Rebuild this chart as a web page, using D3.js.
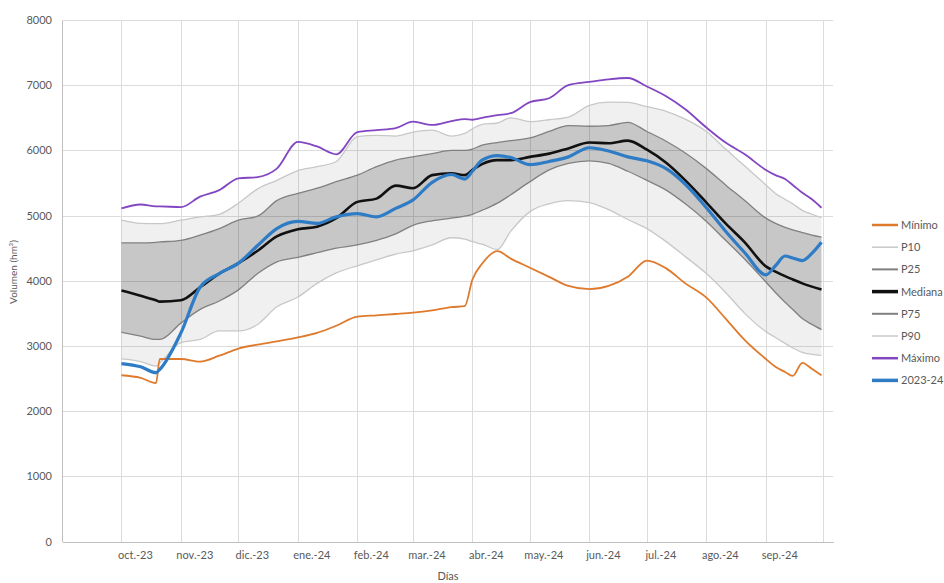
<!DOCTYPE html>
<meta charset="utf-8">
<style>

body {
  margin: 0;
  background: #fff;
}

text {
  font-family: Lato, "Open Sans", sans-serif;
  fill: #595959;
}

.grid line {
  stroke: #dcdcdc;
  stroke-width: 1px;
  shape-rendering: crispEdges;
}

.axis path,
.axis line {
  fill: none;
  stroke: #bfbfbf;
  shape-rendering: crispEdges;
}

.serie {
  fill: none;
  stroke-linejoin: round;
}

</style>
<body>
<div id="chart"></div>
<script src="https://cdnjs.cloudflare.com/ajax/libs/d3/7.8.5/d3.min.js"></script>
<script>

var fechas = ["2023-10-01","2023-10-11","2023-10-19","2023-10-21","2023-11-01","2023-11-11","2023-11-21",
  "2023-12-01","2023-12-11","2023-12-21","2024-01-01","2024-01-11","2024-01-21","2024-02-01","2024-02-11",
  "2024-02-21","2024-03-01","2024-03-11","2024-03-21","2024-03-28","2024-04-01","2024-04-06","2024-04-14",
  "2024-04-21","2024-05-01","2024-05-11","2024-05-21","2024-06-01","2024-06-11","2024-06-21","2024-07-01",
  "2024-07-11","2024-07-21","2024-08-01","2024-08-11","2024-08-21","2024-09-01","2024-09-06","2024-09-11",
  "2024-09-15","2024-09-20","2024-09-25","2024-09-30"];

var minimo = [2550,2510,2430,2800,2800,2760,2850,2960,3020,3070,3130,3200,3310,3450,3470,3490,3510,3545,3595,3610,
  4020,4260,4455,4340,4200,4060,3920,3870,3920,4060,4310,4190,3960,3740,3420,3090,2800,2680,2600,2540,2740,2650,2550];

var p10 = [2800,2760,2690,2740,3050,3100,3230,3230,3330,3600,3750,3960,4120,4230,4320,4410,4460,4550,4660,4640,
  4600,4560,4480,4760,5060,5180,5230,5200,5090,4940,4800,4600,4370,4110,3820,3500,3220,3130,3040,2970,2900,2870,2855];

var p25 = [3210,3150,3100,3100,3350,3560,3690,3860,4110,4290,4360,4430,4500,4550,4620,4720,4850,4920,4960,4990,
  5020,5080,5190,5320,5520,5700,5800,5840,5800,5680,5540,5390,5180,4910,4620,4330,3980,3820,3670,3560,3420,3330,3250];

var mediana = [3850,3770,3700,3680,3700,3900,4110,4270,4460,4680,4790,4830,4960,5210,5260,5460,5420,5620,5650,5620,
  5700,5790,5850,5850,5900,5950,6030,6120,6110,6150,6010,5810,5540,5200,4880,4590,4220,4140,4070,4020,3960,3910,3865];

var p75 = [4580,4580,4590,4595,4620,4700,4800,4930,4990,5230,5340,5420,5520,5620,5750,5850,5900,5950,6000,6000,
  6020,6080,6120,6150,6190,6290,6380,6370,6380,6430,6290,6140,5960,5720,5470,5230,4960,4880,4820,4780,4740,4700,4670];

var p90 = [4930,4880,4875,4875,4930,4980,5020,5190,5410,5540,5690,5750,5830,6210,6230,6220,6280,6310,6220,6260,
  6330,6400,6420,6500,6440,6470,6510,6690,6740,6735,6670,6600,6480,6290,6020,5760,5470,5340,5250,5180,5080,5020,4970];

var maximo = [5110,5170,5140,5140,5130,5290,5390,5570,5590,5720,6130,6060,5940,6280,6310,6340,6440,6390,6450,6480,
  6470,6500,6540,6570,6740,6800,7000,7050,7090,7110,6980,6830,6630,6350,6120,5940,5700,5620,5560,5470,5350,5250,5120];

var temporada = [2730,2680,2590,2640,3200,3900,4110,4270,4540,4800,4910,4880,4980,5030,4980,5110,5240,5510,5630,5560,
  5680,5850,5920,5890,5780,5830,5900,6040,5990,5900,5840,5720,5480,5120,4760,4430,4090,4230,4380,4350,4310,4420,4590];

var meses = ["oct.-23","nov.-23","dic.-23","ene.-24","feb.-24","mar.-24","abr.-24",
  "may.-24","jun.-24","jul.-24","ago.-24","sep.-24"];

var yTicks = [0,1000,2000,3000,4000,5000,6000,7000,8000];

var width = 944, height = 583;
var mLeft = 62, mRight = 833, mTop = 20, mBottom = 541.5;

var parse = d3.timeParse("%Y-%m-%d");

var datos = fechas.map(function(f, i) {
  return {date: parse(f), min: minimo[i], p10: p10[i], p25: p25[i], med: mediana[i],
          p75: p75[i], p90: p90[i], max: maximo[i], act: temporada[i]};
});

var x = d3.scaleTime()
    .domain([parse("2023-08-31"), parse("2024-10-06")])
    .range([mLeft, mRight]);

var y = d3.scaleLinear()
    .domain([0, 8000])
    .range([mBottom, mTop]);

var svg = d3.select("#chart").append("svg")
    .attr("width", width)
    .attr("height", height);

// rejilla
var inicioMeses = d3.timeMonth.range(parse("2023-10-01"), parse("2024-10-02"));

var grid = svg.append("g").attr("class", "grid");
grid.selectAll(".h").data(yTicks.slice(1)).enter().append("line")
    .attr("x1", mLeft).attr("x2", mRight)
    .attr("y1", function(d) { return Math.round(y(d)) + 0.5; })
    .attr("y2", function(d) { return Math.round(y(d)) + 0.5; });
grid.selectAll(".v").data(inicioMeses).enter().append("line")
    .attr("x1", function(d) { return Math.round(x(d)) + 0.5; })
    .attr("x2", function(d) { return Math.round(x(d)) + 0.5; })
    .attr("y1", mTop).attr("y2", mBottom);

// bandas
var banda = function(lo, hi) {
  return d3.area()
    .x(function(d) { return x(d.date); })
    .y0(function(d) { return y(d[lo]); })
    .y1(function(d) { return y(d[hi]); })
    .curve(d3.curveMonotoneX);
};

svg.append("path").datum(datos)
    .attr("d", banda("p10", "p90"))
    .style("fill", "#000").style("fill-opacity", 0.06);
svg.append("path").datum(datos)
    .attr("d", banda("p25", "p75"))
    .style("fill", "#000").style("fill-opacity", 0.17);

// ejes
svg.append("g")
    .attr("class", "axis")
    .attr("transform", "translate(" + mLeft + ",0)")
    .call(d3.axisLeft(y).tickValues(yTicks).tickSize(0).tickPadding(10).tickFormat(d3.format("d")))
    .selectAll("text").style("font-size", "11px").style("fill", "#595959");

var xAxis = d3.axisBottom(x)
    .tickValues(inicioMeses.slice(0, 12).map(function(d) { return d3.timeDay.offset(d, 7); }))
    .tickSize(0)
    .tickPadding(10)
    .tickFormat(function(d, i) { return meses[i]; });

svg.append("g")
    .attr("class", "axis")
    .attr("transform", "translate(0," + mBottom + ")")
    .call(xAxis)
    .selectAll("text").style("font-size", "11px").style("fill", "#595959");

svg.selectAll(".axis .domain").attr("stroke", "#bfbfbf");

svg.append("text")
    .attr("x", 448).attr("y", 580)
    .attr("text-anchor", "middle")
    .style("font-size", "11px")
    .text("Días");

svg.append("text")
    .attr("transform", "translate(17,272) rotate(-90)")
    .attr("text-anchor", "middle")
    .style("font-size", "10px")
    .text("Volumen (hm³)");

// series
var series = [
  {key: "p10", name: "P10", color: "#c8c8c8", w: 1.3, lw: 1.5},
  {key: "p90", name: "P90", color: "#c8c8c8", w: 1.3, lw: 1.5},
  {key: "p25", name: "P25", color: "#808080", w: 1.3, lw: 2},
  {key: "p75", name: "P75", color: "#808080", w: 1.3, lw: 2},
  {key: "min", name: "Mínimo", color: "#df7a2c", w: 1.8, lw: 2.5},
  {key: "max", name: "Máximo", color: "#8346c2", w: 1.8, lw: 2.5},
  {key: "med", name: "Mediana", color: "#111111", w: 2.6, lw: 3.5},
  {key: "act", name: "2023-24", color: "#2f7cc6", w: 3.2, lw: 3.5}
];

series.forEach(function(s) {
  var linea = d3.line()
      .x(function(d) { return x(d.date); })
      .y(function(d) { return y(d[s.key]); })
      .curve(d3.curveMonotoneX);
  svg.append("path").datum(datos)
      .attr("class", "serie")
      .attr("d", linea)
      .style("stroke", s.color)
      .style("stroke-width", s.w + "px");
});

// leyenda
var orden = ["min", "p10", "p25", "med", "p75", "p90", "max", "act"];
var leyenda = svg.append("g").attr("transform", "translate(872,225)");
orden.forEach(function(k, i) {
  var s = series.find(function(d) { return d.key === k; });
  var g = leyenda.append("g").attr("transform", "translate(0," + (i * 22.2) + ")");
  g.append("line")
      .attr("x1", 0).attr("x2", 26)
      .attr("y1", 0).attr("y2", 0)
      .style("stroke", s.color)
      .style("stroke-width", s.lw + "px");
  g.append("text")
      .attr("x", 29).attr("y", 4)
      .style("font-size", "11px")
      .text(s.name);
});

</script>
